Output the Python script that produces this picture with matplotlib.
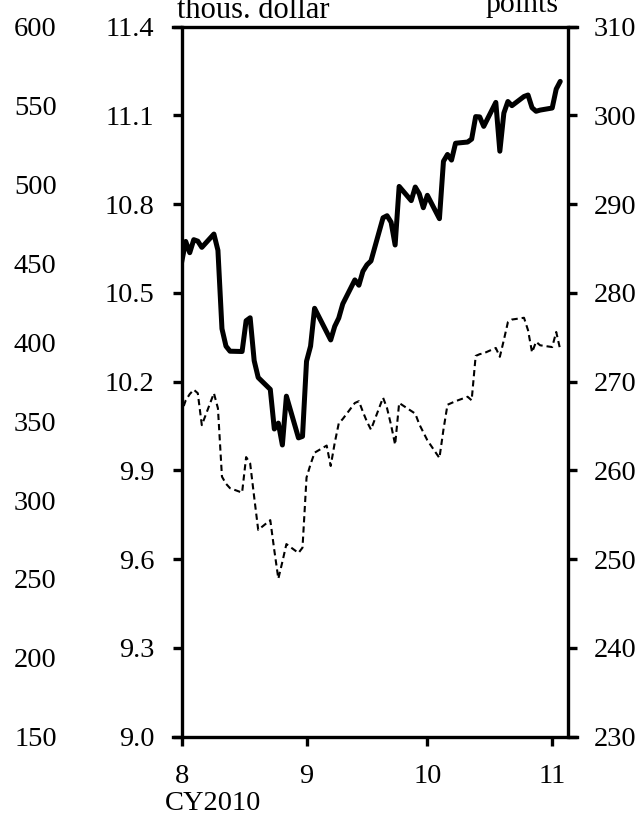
import matplotlib
matplotlib.use("Agg")
import matplotlib.pyplot as plt
import matplotlib.dates as mdates
from matplotlib.lines import Line2D
import pandas as pd

# ---- data ----
# Solid line: thous. dollar (US trading days, Jul 30 - Nov 3, 2010)
us_dates = pd.bdate_range("2010-07-30", "2010-11-03").drop(pd.Timestamp("2010-09-06"))
dollar_values = [
    10.466,
    10.674, 10.636, 10.680, 10.675, 10.654, 10.699, 10.644, 10.379, 10.320, 10.303,
    10.302, 10.406, 10.416, 10.271, 10.214, 10.174, 10.040, 10.060, 9.986, 10.151,
    10.010, 10.015,
    10.269, 10.320, 10.448, 10.341, 10.387, 10.415, 10.463, 10.544, 10.526, 10.573,
    10.595, 10.608, 10.754, 10.761, 10.739, 10.662, 10.860, 10.812, 10.858, 10.835,
    10.788,
    10.830, 10.751, 10.945, 10.968, 10.949, 11.006, 11.010, 11.020, 11.096, 11.095,
    11.063, 11.144, 10.979, 11.108, 11.147, 11.133, 11.164, 11.169, 11.126, 11.114,
    11.118,
    11.125, 11.189, 11.215,
]

# Dashed line: points (all weekdays, Jul 30 - Nov 3, 2010)
pt_dates = pd.bdate_range("2010-07-30", "2010-11-03")
point_values = [
    264.0,
    267.9, 268.6, 269.1, 268.7, 265.1, 268.7, 267.0, 259.3, 258.5, 258.0,
    257.5, 261.5, 260.8, 257.0, 253.3, 254.4, 251.0, 247.8, 249.7, 251.7,
    250.7, 251.3,
    259.2, 260.7, 262.0, 262.8, 260.5, 263.1, 265.3, 265.8, 267.6, 267.8,
    266.6, 265.5, 264.6, 268.2, 267.0, 265.1, 262.9, 267.6, 266.7, 266.4,
    265.2, 264.3,
    263.4, 261.4, 264.6, 267.4, 267.6, 267.8, 268.3, 267.9, 272.9, 273.1,
    273.2, 273.8, 272.8, 274.7, 276.7, 277.0, 277.2, 275.8, 273.3, 274.5,
    274.1,
    273.9, 275.6, 273.6,
]

x_tick_dates = ["2010-08-01", "2010-09-01", "2010-10-01", "2010-11-01"]
x_tick_labels = ["8", "9", "10", "11"]
left_ticks = [9.0, 9.3, 9.6, 9.9, 10.2, 10.5, 10.8, 11.1, 11.4]
right_ticks = [230, 240, 250, 260, 270, 280, 290, 300, 310]
outer_ticks = [150, 200, 250, 300, 350, 400, 450, 500, 550, 600]

# ---- style ----
plt.rcParams["font.family"] = ["Liberation Serif", "DejaVu Serif"]
FS = 20.5
LW_SPINE = 2.4
TICK_LEN = 6.5

fig = plt.figure(figsize=(6.42, 8.18), dpi=100)
ax = fig.add_axes([0.2830, 0.0994, 0.6022, 0.8680])
ax2 = ax.twinx()
ax3 = ax.twinx()

ax.plot(us_dates, dollar_values, color="black", lw=3.6, solid_joinstyle="round",
        solid_capstyle="round", zorder=3)
ax2.plot(pt_dates, point_values, color="black", lw=1.5, dashes=(3.0, 1.9), zorder=3)

ax.set_xlim(pd.Timestamp("2010-08-01"), pd.Timestamp("2010-11-05"))
ax.set_ylim(9.0, 11.4)
ax2.set_ylim(230, 310)
ax3.set_ylim(150, 600)

ax.set_xticks([mdates.date2num(pd.Timestamp(d)) for d in x_tick_dates])
ax.set_xticklabels(x_tick_labels)
ax.set_yticks(left_ticks)
ax.set_yticklabels([f"{v:.1f}" for v in left_ticks])
ax2.set_yticks(right_ticks)
ax2.set_yticklabels([str(v) for v in right_ticks])
ax3.set_yticks(outer_ticks)
ax3.set_yticklabels([str(v) for v in outer_ticks])

for a in (ax, ax2, ax3):
    for s in a.spines.values():
        s.set_visible(False)

ax.spines["left"].set_visible(True)
ax.spines["left"].set_linewidth(LW_SPINE)
ax2.spines["right"].set_visible(True)
ax2.spines["right"].set_linewidth(LW_SPINE)

ax.tick_params(axis="y", direction="out", length=TICK_LEN, width=LW_SPINE,
               labelsize=FS, pad=13.2)
ax.tick_params(axis="x", direction="out", length=TICK_LEN, width=LW_SPINE,
               labelsize=FS, pad=13)
ax2.tick_params(axis="y", direction="out", length=TICK_LEN, width=LW_SPINE,
                labelsize=FS, pad=12)
ax3.yaxis.set_ticks_position("left")
ax3.yaxis.set_label_position("left")
ax3.tick_params(axis="y", length=0, labelsize=FS, pad=90)

# top and bottom borders extending to tick length
ext = 9.0 / 386.6
for yy in (0.0, 1.0):
    ax.add_line(Line2D([-ext, 1 + ext], [yy, yy], transform=ax.transAxes,
                       color="black", lw=LW_SPINE, clip_on=False, zorder=5))

fig.text(177 / 642, 1 - 18 / 818, "thous. dollar", fontsize=22, ha="left",
         va="baseline")
fig.text(559 / 642, 1 - 12 / 818, "points", fontsize=21.5, ha="right",
         va="baseline")
fig.text(165 / 642, 1 - 803 / 818, "CY2010", fontsize=FS, ha="left",
         va="center")

fig.savefig("out.png", dpi=100)
